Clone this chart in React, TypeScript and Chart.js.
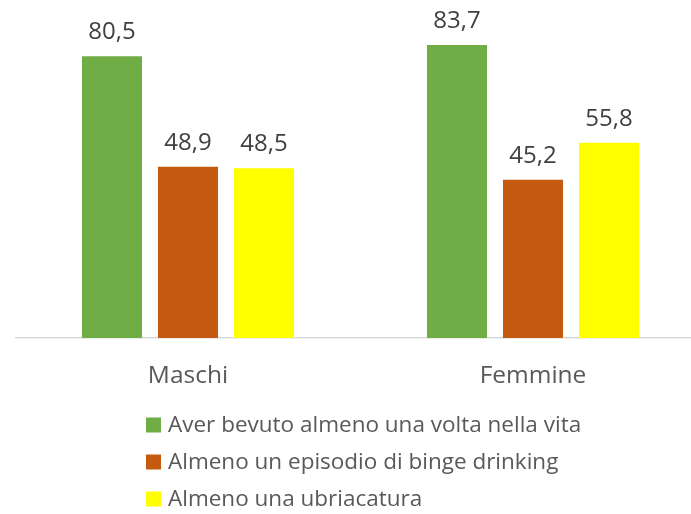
import React, { useEffect, useRef } from "react";
import { Chart, registerables } from "chart.js";

Chart.register(...registerables);

const categories = ["Maschi", "Femmine"];
const seriesNames = [
  "Aver bevuto almeno una volta nella vita",
  "Almeno un episodio di binge drinking",
  "Almeno una ubriacatura",
];
const everDrank = [80.5, 83.7];
const bingeDrinking = [48.9, 45.2];
const drunkOnce = [48.5, 55.8];
const colors = ["#70AD47", "#C55A11", "#FFFF00"];

const FONT = "'Open Sans', sans-serif";

const valueLabels = {
  id: "valueLabels",
  afterDatasetsDraw(chart: any) {
    const ctx = chart.ctx;
    ctx.save();
    ctx.font = `24px ${FONT}`;
    ctx.fillStyle = "#404040";
    ctx.textAlign = "center";
    ctx.textBaseline = "alphabetic";
    chart.data.datasets.forEach((ds: any, i: number) => {
      const meta = chart.getDatasetMeta(i);
      meta.data.forEach((bar: any, j: number) => {
        const v = ds.data[j];
        ctx.fillText(String(v).replace(".", ","), bar.x, bar.y - 17);
      });
    });
    ctx.restore();
  },
};

const customLegend = {
  id: "customLegend",
  afterDraw(chart: any) {
    const ctx = chart.ctx;
    ctx.save();
    ctx.font = `22.5px ${FONT}`;
    ctx.textAlign = "left";
    ctx.textBaseline = "middle";
    const rows = [424.5, 461.5, 498.5];
    chart.data.datasets.forEach((ds: any, i: number) => {
      const cy = rows[i];
      ctx.fillStyle = ds.backgroundColor;
      ctx.fillRect(146, cy - 7, 15, 15);
      ctx.fillStyle = "#595959";
      ctx.fillText(ds.label, 168, cy + 1);
    });
    ctx.restore();
  },
};

export default function App() {
  const ref = useRef<HTMLCanvasElement>(null);
  useEffect(() => {
    if (!ref.current) return;
    const data = [everDrank, bingeDrinking, drunkOnce];
    const chart = new Chart(ref.current, {
      type: "bar",
      data: {
        labels: categories,
        datasets: seriesNames.map((name, i) => ({
          label: name,
          data: data[i],
          backgroundColor: colors[i],
          categoryPercentage: 0.661,
          barPercentage: 0.79,
        })),
      },
      options: {
        animation: false,
        responsive: false,
        maintainAspectRatio: false,
        layout: { padding: { left: 15.5, right: 14.5, top: 23, bottom: 0 } },
        plugins: { legend: { display: false }, tooltip: { enabled: false } },
        scales: {
          y: { display: false, min: 0, max: 90 },
          x: {
            grid: { display: false, drawTicks: false },
            border: { display: true, color: "#D9D9D9", width: 1.5 },
            ticks: {
              color: "#595959",
              font: { family: FONT, size: 24.5 },
              padding: 23,
            },
            afterFit(scale: any) {
              scale.height = 176;
            },
          },
        },
      },
      plugins: [valueLabels, customLegend],
    });
    return () => chart.destroy();
  }, []);
  return (
    <div
      style={{
        position: "fixed",
        left: 0,
        top: 0,
        width: 691,
        height: 514,
        overflow: "hidden",
        background: "#fff",
      }}
    >
      <canvas ref={ref} width={720} height={514} style={{ display: "block" }} />
    </div>
  );
}
